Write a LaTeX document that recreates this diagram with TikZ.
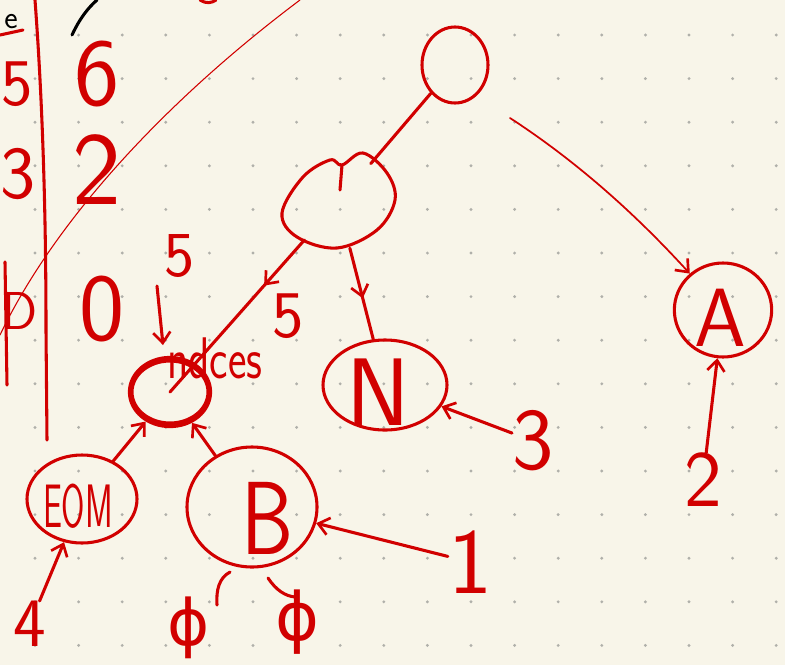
\documentclass[tikz,border=0pt]{standalone}
\usepackage{fontspec}
\newfontfamily\dejavu{DejaVu Sans}
\usetikzlibrary{shapes.geometric,arrows.meta,decorations.markings}
\definecolor{ink}{HTML}{D10000}
\definecolor{paper}{HTML}{F8F5E9}
\definecolor{dotc}{HTML}{B0B0AA}
\begin{document}
\begin{tikzpicture}[x=0.75pt,y=-0.75pt,
  pen/.style={draw=ink,line width=2.3pt,line cap=round,line join=round},
  thinpen/.style={draw=ink,line width=0.8pt,line cap=round},
  circ/.style={ellipse,pen,inner sep=0pt},
  hand/.style={text=ink,inner sep=0pt,font=\sffamily\fontsize{#1}{#1}\selectfont},
  tipped/.style={-{Straight Barb[length=8pt,width=13pt,line width=2pt]}},
  midtip/.style={postaction={decorate},decoration={markings,
     mark=at position #1 with {\arrow{Straight Barb[length=8pt,width=13pt,line width=2pt]}}}},
]
\useasboundingbox (0,0) rectangle (785,665);
\fill[paper] (0,0) rectangle (785,665);
\foreach \i in {0,...,17}{\foreach \j in {0,...,14}{
  \fill[dotc] (35+43.6*\i,35+43.6*\j) circle (1.2pt);}}

% ---- left margin fragments ----
\draw[pen] (35,0) .. controls (44,120) and (46,240) .. (46,330) -- (47,440);
\draw[pen] (5,262) -- (7,385);
\draw[thinpen] (300,0) .. controls (180,90) and (60,210) .. (0,335);
\draw[black,line width=2.3pt,line cap=round] (72,35) .. controls (80,18) and (88,8) .. (97,0);
\node[hand=24,text=black] (le) at (11,22) {e};
\draw[pen] (0,35) -- (23,30);
\node[hand=50] (l5) at (17,84) {5};
\node[hand=56] (l3) at (18,174) {3};
\node[hand=72] (l6) at (97,74) {6};
\node[hand=78] (l2) at (97,170) {2};
\node[hand=72] (l0) at (102,309) {0};
\node[hand=40] (lD) at (20,311) {D};
\draw[pen] (200,0) .. controls (206,4) and (212,3) .. (216,0);

% ---- tree nodes ----
\node[circ,minimum width=49.5pt,minimum height=57pt] (O) at (455,65) {};
\node[ellipse,inner sep=0pt,minimum width=84pt,minimum height=70.5pt] (cloud) at (338,202) {};
\draw[pen] plot[smooth cycle,tension=0.6] coordinates {(342,165) (330,160) (303,177) (282,213) (297,237) (337,248) (377,230) (395,200) (387,173) (363,153)};
\draw[pen] (342,165) -- (340,190);
\node[circ,line width=3.2pt,minimum width=60pt,minimum height=51pt] (idx) at (170,392) {};
\draw[pen] (170,392) ellipse (38 and 31);
\node[circ,minimum width=93pt,minimum height=67.5pt] (N) at (385,385) {};
\node[hand=72] (Nt) at (378,392) {N};
\node[circ,minimum width=73pt,minimum height=70.5pt] (A) at (723,310) {};
\node[hand=62] (At) at (720,318) {A};
\node[circ,minimum width=97.5pt,minimum height=90pt] (B) at (252,507) {};
\node[hand=78,xscale=0.8] (Bt) at (268,518) {B};
\node[circ,minimum width=82.5pt,minimum height=66pt] (EOM) at (82,499) {};
\node[hand=46,xscale=0.55] (EOMt) at (78,506) {EOM};

% ---- labels ----
\node[hand=66] (n3) at (533,441) {3};
\node[hand=70] (n1) at (470,562) {1};
\node[hand=60] (n2) at (703,480) {2};
\node[hand=52] (n4) at (30,624) {4};
\node[hand=48] (n5a) at (180,256) {5};
\node[hand=50] (n5b) at (288,316) {5};
\node[hand=44,xscale=0.75] (ndces) at (215,358) {ndces};
\node[text=ink,inner sep=0pt,font=\dejavu\fontsize{48}{48}\selectfont] (phi1) at (189,628) {ϕ};
\node[text=ink,inner sep=0pt,font=\dejavu\fontsize{50}{50}\selectfont] (phi2) at (297,622) {ϕ};
\coordinate (arrtop) at (157,286);
\coordinate (arrbot) at (163,345);
\draw[pen,tipped] (arrtop) -- (arrbot);
\draw[pen] (217,605) .. controls (216,590) and (219,578) .. (230,572);
\draw[pen] (268,578) .. controls (276,590) and (285,596) .. (295,597);

% ---- connectors ----
\draw[pen] (O) -- (cloud);
\draw[pen,midtip=0.3] (cloud) -- (idx.center);
\draw[pen,midtip=0.55] (cloud) -- (N);
\draw[pen,tipped] (EOM) -- (idx);
\draw[pen,tipped] (B) -- (idx);
\draw[pen,tipped] (n3) -- (N);
\draw[pen,tipped] (n1) -- (B);
\draw[pen,tipped] (n2) -- (A);
\draw[pen,tipped] (n4) -- (EOM);
\coordinate (s) at (510,118);
\draw[thinpen,line width=1.3pt,-{Straight Barb[length=8pt,width=13pt,line width=2pt]}] (s) .. controls (590,170) and (650,230) .. (A);
\end{tikzpicture}
\end{document}
